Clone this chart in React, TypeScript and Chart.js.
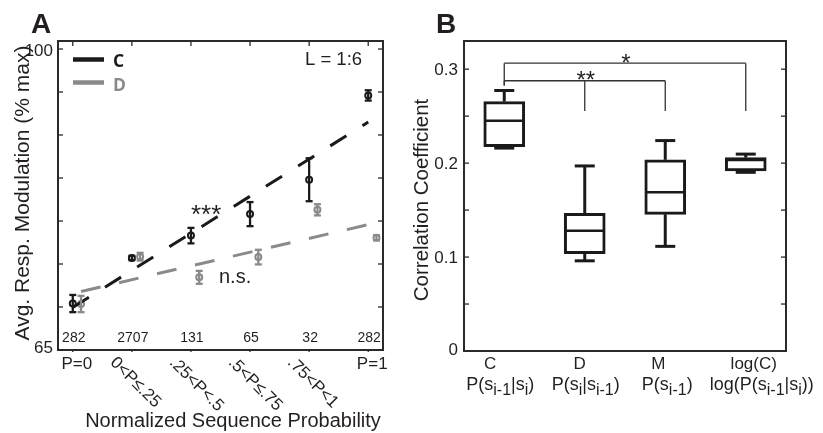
import React, { useEffect, useRef } from 'react';
import { Chart, registerables } from 'chart.js';

Chart.register(...registerables);

// ---------------- Panel A data ----------------
const A_CATEGORIES = ['P=0', '0<P≤.25', '.25<P<.5', '.5<P≤.75', '.75<P<1', 'P=1'];
const A_COUNTS = ['282', '2707', '131', '65', '32', '282'];
const A_X = [0, 1, 2, 3, 4, 5];
const C_MEAN = [70.4, 75.7, 78.3, 80.8, 84.8, 94.6];
const C_ERR = [1.0, 0.25, 0.9, 1.4, 2.5, 0.6];
const D_MEAN = [70.35, 75.85, 73.45, 75.8, 81.3, 78.05];
const D_ERR = [0.95, 0.45, 0.75, 0.85, 0.65, 0.3];
const D_OFFSET = 0.14;
const FIT_X = [0, 5];
const C_FIT = [69.95, 91.5];
const D_FIT = [71.8, 79.8];
const A_YTICKS = [65, 70, 75, 80, 85, 90, 95, 100];
const A_YLABELS = ['65', '', '', '', '', '', '', '100'];
const A_YMIN = 65;
const A_YMAX = 100.93;

// ---------------- Panel B data ----------------
const B_CATEGORIES = ['C', 'D', 'M', 'log(C)'];
const B_MAX = [0.2773, 0.197, 0.224, 0.2096];
const B_Q3 = [0.2655, 0.1465, 0.2035, 0.2058];
const B_MEDIAN = [0.245, 0.128, 0.169, 0.2032];
const B_Q1 = [0.2175, 0.1035, 0.1455, 0.1918];
const B_MIN = [0.2160, 0.0960, 0.1114, 0.1902];
const B_YTICKS = [0, 0.05, 0.1, 0.15, 0.2, 0.25, 0.3];
const B_YLABELS = ['0', '', '0.1', '', '0.2', '', '0.3'];
const B_YMAX = 0.33;
// formula rows: [text, isSubscript]
const B_FORMULAS: [string, boolean][][] = [
  [['P(s', false], ['i-1', true], ['|s', false], ['i', true], [')', false]],
  [['P(s', false], ['i', true], ['|s', false], ['i-1', true], [')', false]],
  [['P(s', false], ['i-1', true], [')', false]],
  [['log(P(s', false], ['i-1', true], ['|s', false], ['i', true], ['))', false]],
];
const SIG_LEVELS = [0.2877, 0.3064];
const SIG_TEXT = ['**', '*'];
const SIG_FROM = [0, 0];
const SIG_TARGETS = [[1, 2], [3]];
const SIG_LEG_BOTTOM = 0.2555;
const SIG_ROOT_BOTTOM = 0.2827;

// ---------------- styles / layout ----------------
const INK = '#231f20';
const GRAY = '#8a8a8a';
const FONT = '"Liberation Sans", Arial, Helvetica, sans-serif';
const B_ROW1_NUDGE = [-14, -5, -7, 8];
const B_ROW2_NUDGE = [-4, 1, 2, 16];

function line(ctx: CanvasRenderingContext2D, x1: number, y1: number, x2: number, y2: number) {
  ctx.beginPath();
  ctx.moveTo(x1, y1);
  ctx.lineTo(x2, y2);
  ctx.stroke();
}

const panelAPlugin = {
  id: 'panelA',
  afterDatasetsDraw(chart: any) {
    const { ctx, chartArea: ca, scales } = chart;
    const x = scales.x;
    const y = scales.y;
    ctx.save();
    // error bars
    const drawErr = (xs: number[], m: number[], e: number[], color: string) => {
      ctx.strokeStyle = color;
      ctx.lineWidth = 2.3;
      xs.forEach((xv, i) => {
        const px = x.getPixelForValue(xv);
        const t = y.getPixelForValue(m[i] + e[i]);
        const b = y.getPixelForValue(m[i] - e[i]);
        line(ctx, px, t, px, b);
        line(ctx, px - 3.5, t, px + 3.5, t);
        line(ctx, px - 3.5, b, px + 3.5, b);
      });
    };
    drawErr(A_X.map((v) => v + D_OFFSET), D_MEAN, D_ERR, GRAY);
    drawErr(A_X, C_MEAN, C_ERR, '#1a1a1a');

    // frame
    ctx.strokeStyle = '#2a2a2a';
    ctx.lineWidth = 2;
    ctx.strokeRect(ca.left, ca.top, ca.right - ca.left, ca.bottom - ca.top);
    ctx.lineWidth = 1.3;
    A_YTICKS.forEach((v) => {
      const py = y.getPixelForValue(v);
      line(ctx, ca.left, py, ca.left + 5, py);
      line(ctx, ca.right, py, ca.right - 5, py);
    });
    A_X.forEach((v) => {
      const px = x.getPixelForValue(v);
      line(ctx, px, ca.top, px, ca.top + 5);
      line(ctx, px, ca.bottom, px, ca.bottom + 2);
    });

    ctx.fillStyle = INK;
    // y tick labels
    ctx.font = `17px ${FONT}`;
    ctx.textAlign = 'right';
    ctx.textBaseline = 'alphabetic';
    A_YTICKS.forEach((v, i) => {
      if (!A_YLABELS[i]) return;
      const py = y.getPixelForValue(v);
      ctx.fillText(A_YLABELS[i], ca.left - 5, (i === 0 ? py - 3 : py + 1) + 6);
    });
    // counts
    ctx.font = `14px ${FONT}`;
    ctx.textAlign = 'center';
    A_X.forEach((v, i) => {
      ctx.fillText(A_COUNTS[i], x.getPixelForValue(v) + 1, ca.bottom - 8);
    });
    // x category labels
    A_X.forEach((v, i) => {
      const px = x.getPixelForValue(v);
      ctx.font = `17px ${FONT}`;
      if (i === 0 || i === A_X.length - 1) {
        ctx.textAlign = 'center';
        ctx.textBaseline = 'alphabetic';
        ctx.fillText(A_CATEGORIES[i], px + 4, ca.bottom + 19);
      } else {
        ctx.save();
        ctx.translate(px - 13, ca.bottom + 4);
        ctx.rotate(Math.PI / 4);
        ctx.textAlign = 'left';
        ctx.textBaseline = 'top';
        ctx.fillText(A_CATEGORIES[i], 0, 0);
        ctx.restore();
      }
    });
    // axis titles
    ctx.textBaseline = 'alphabetic';
    ctx.textAlign = 'center';
    ctx.font = `20px ${FONT}`;
    ctx.fillText('Normalized Sequence Probability', 233, 427);
    ctx.save();
    ctx.translate(28.5, 193);
    ctx.rotate(-Math.PI / 2);
    ctx.font = `21px ${FONT}`;
    ctx.fillText('Avg. Resp. Modulation (% max)', 0, 0);
    ctx.restore();
    // panel letter
    ctx.textAlign = 'left';
    ctx.font = `bold 28px ${FONT}`;
    ctx.fillText('A', 31, 33);
    // legend
    ctx.lineWidth = 4.5;
    ctx.strokeStyle = '#1a1a1a';
    line(ctx, 73, 59.5, 104, 59.5);
    ctx.strokeStyle = GRAY;
    line(ctx, 73, 82.5, 104, 82.5);
    ctx.font = `bold 17.5px "Open Sans", ${FONT}`;
    ctx.fillStyle = '#1a1a1a';
    ctx.fillText('C', 113, 67);
    ctx.fillStyle = GRAY;
    ctx.fillText('D', 113, 91);
    // annotations
    ctx.fillStyle = INK;
    ctx.font = `18.5px ${FONT}`;
    ctx.fillText('L = 1:6', 305, 64.5);
    ctx.font = `20px ${FONT}`;
    ctx.fillText('n.s.', 219, 282.5);
    ctx.font = `26px ${FONT}`;
    ctx.fillText('***', 191, 223);
    ctx.restore();
  },
};

const panelBPlugin = {
  id: 'panelB',
  afterDatasetsDraw(chart: any) {
    const { ctx, chartArea: ca, scales } = chart;
    const x = scales.x;
    const y = scales.y;
    ctx.save();
    // whiskers & medians
    ctx.strokeStyle = '#1a1a1a';
    B_CATEGORIES.forEach((_, i) => {
      const cx = x.getPixelForValue(i);
      ctx.lineWidth = 3;
      line(ctx, cx, y.getPixelForValue(B_MAX[i]), cx, y.getPixelForValue(B_Q3[i]));
      line(ctx, cx, y.getPixelForValue(B_Q1[i]), cx, y.getPixelForValue(B_MIN[i]));
      line(ctx, cx - 10, y.getPixelForValue(B_MAX[i]), cx + 10, y.getPixelForValue(B_MAX[i]));
      line(ctx, cx - 10, y.getPixelForValue(B_MIN[i]), cx + 10, y.getPixelForValue(B_MIN[i]));
      ctx.lineWidth = 2.5;
      line(ctx, cx - 20, y.getPixelForValue(B_MEDIAN[i]), cx + 20, y.getPixelForValue(B_MEDIAN[i]));
    });
    // significance brackets
    ctx.strokeStyle = '#333';
    ctx.lineWidth = 1.3;
    ctx.fillStyle = INK;
    SIG_LEVELS.forEach((lv, k) => {
      const py = y.getPixelForValue(lv);
      const x0 = x.getPixelForValue(SIG_FROM[k]);
      const targets = SIG_TARGETS[k];
      const x1 = x.getPixelForValue(targets[targets.length - 1]);
      line(ctx, x0, py, x1, py);
      line(ctx, x0, py, x0, y.getPixelForValue(SIG_ROOT_BOTTOM));
      targets.forEach((t) => {
        const tx = x.getPixelForValue(t);
        line(ctx, tx, py, tx, y.getPixelForValue(SIG_LEG_BOTTOM));
      });
      ctx.font = `24px ${FONT}`;
      ctx.textAlign = 'center';
      ctx.textBaseline = 'alphabetic';
      ctx.fillText(SIG_TEXT[k], (x0 + x1) / 2 + 1, py + 7.5);
    });
    // frame
    ctx.strokeStyle = '#2a2a2a';
    ctx.lineWidth = 2;
    ctx.strokeRect(ca.left, ca.top, ca.right - ca.left, ca.bottom - ca.top);
    ctx.lineWidth = 1.3;
    B_YTICKS.forEach((v) => {
      const py = y.getPixelForValue(v);
      line(ctx, ca.left, py, ca.left + 5, py);
      line(ctx, ca.right, py, ca.right - 5, py);
    });
    // y labels
    ctx.fillStyle = INK;
    ctx.font = `17px ${FONT}`;
    ctx.textAlign = 'right';
    B_YTICKS.forEach((v, i) => {
      if (!B_YLABELS[i]) return;
      const py = y.getPixelForValue(v);
      ctx.fillText(B_YLABELS[i], ca.left - 6, (i === 0 ? py - 2 : py) + 6);
    });
    // x labels
    B_CATEGORIES.forEach((c, i) => {
      const cx = x.getPixelForValue(i);
      ctx.font = `17px ${FONT}`;
      ctx.textAlign = 'center';
      ctx.fillText(c, cx + B_ROW1_NUDGE[i], 368.5);
      // formula with subscripts
      const parts = B_FORMULAS[i];
      let total = 0;
      parts.forEach(([t, sub]) => {
        ctx.font = `${sub ? 16 : 18}px ${FONT}`;
        total += ctx.measureText(t).width;
      });
      let px = cx + B_ROW2_NUDGE[i] - total / 2;
      ctx.textAlign = 'left';
      parts.forEach(([t, sub]) => {
        ctx.font = `${sub ? 16 : 18}px ${FONT}`;
        ctx.fillText(t, px, sub ? 395 : 390);
        px += ctx.measureText(t).width;
      });
    });
    // titles
    ctx.textAlign = 'center';
    ctx.save();
    ctx.translate(427.5 - 410, 200);
    ctx.rotate(-Math.PI / 2);
    ctx.font = `20.5px ${FONT}`;
    ctx.fillText('Correlation Coefficient', 0, 0);
    ctx.restore();
    ctx.textAlign = 'left';
    ctx.font = `bold 28px ${FONT}`;
    ctx.fillText('B', 436 - 410, 33);
    ctx.restore();
  },
};

export default function App() {
  const refA = useRef<HTMLCanvasElement>(null);
  const refB = useRef<HTMLCanvasElement>(null);

  useEffect(() => {
    if (!refA.current || !refB.current) return;
    const chartA = new Chart(refA.current, {
      type: 'scatter',
      data: {
        datasets: [
          {
            label: 'C fit',
            data: FIT_X.map((xv, i) => ({ x: xv, y: C_FIT[i] })),
            showLine: true,
            borderColor: '#1a1a1a',
            borderWidth: 3,
            borderDash: [19, 19],
            pointRadius: 0,
          },
          {
            label: 'D fit',
            data: FIT_X.map((xv, i) => ({ x: xv + D_OFFSET, y: D_FIT[i] })),
            showLine: true,
            borderColor: GRAY,
            borderWidth: 3,
            borderDash: [20, 19],
            pointRadius: 0,
          },
          {
            label: 'C',
            data: A_X.map((xv, i) => ({ x: xv, y: C_MEAN[i] })),
            pointStyle: 'circle',
            pointRadius: 3,
            pointBorderWidth: 2,
            borderColor: '#1a1a1a',
            backgroundColor: 'rgba(0,0,0,0)',
          },
          {
            label: 'D',
            data: A_X.map((xv, i) => ({ x: xv + D_OFFSET, y: D_MEAN[i] })),
            pointStyle: 'circle',
            pointRadius: 3,
            pointBorderWidth: 2,
            borderColor: GRAY,
            backgroundColor: 'rgba(0,0,0,0)',
          },
        ],
      },
      options: {
        responsive: false,
        animation: false,
        devicePixelRatio: 1,
        layout: { padding: { left: 58, top: 41, right: 27, bottom: 83 } },
        plugins: { legend: { display: false }, tooltip: { enabled: false }, title: { display: false } },
        scales: {
          x: { type: 'linear', min: -0.25, max: 5.25, display: false },
          y: { type: 'linear', min: A_YMIN, max: A_YMAX, display: false },
        },
      },
      plugins: [panelAPlugin],
    } as any);

    const chartB = new Chart(refB.current, {
      type: 'bar',
      data: {
        labels: B_CATEGORIES,
        datasets: [
          {
            label: 'box',
            data: B_Q1.map((q1, i) => [q1, B_Q3[i]]),
            backgroundColor: '#ffffff',
            borderColor: '#1a1a1a',
            borderWidth: 3,
            borderSkipped: false,
            barThickness: 41,
          },
        ],
      },
      options: {
        responsive: false,
        animation: false,
        devicePixelRatio: 1,
        layout: { padding: { left: 54, top: 41, right: 37, bottom: 82 } },
        plugins: { legend: { display: false }, tooltip: { enabled: false }, title: { display: false } },
        scales: {
          x: { type: 'category', offset: true, display: false },
          y: { type: 'linear', min: 0, max: B_YMAX, display: false },
        },
      },
      plugins: [panelBPlugin],
    } as any);

    return () => {
      chartA.destroy();
      chartB.destroy();
    };
  }, []);

  return (
    <div style={{ position: 'absolute', left: 0, top: 0, width: 823, height: 433, background: '#fff' }}>
      <canvas ref={refA} width={410} height={433} style={{ position: 'absolute', left: 0, top: 0, width: 410, height: 433 }} />
      <canvas ref={refB} width={413} height={433} style={{ position: 'absolute', left: 410, top: 0, width: 413, height: 433 }} />
    </div>
  );
}
